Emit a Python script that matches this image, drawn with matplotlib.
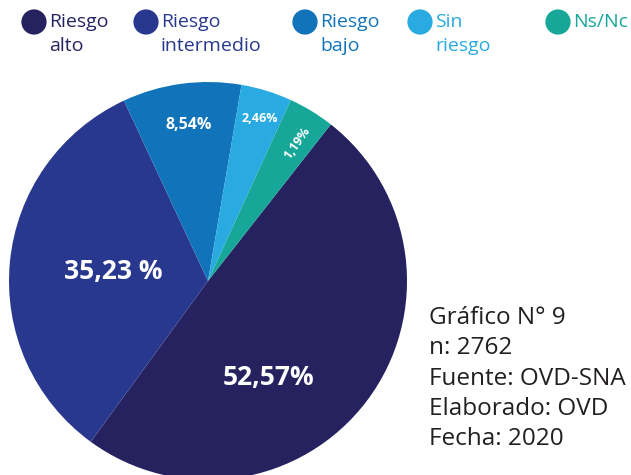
import numpy as np
import matplotlib.pyplot as plt

# categories and values (wedge shares, labels as printed)
categorias = ['Riesgo\nalto', 'Riesgo\nintermedio', 'Riesgo\nbajo', 'Sin\nriesgo', 'Ns/Nc']
porcentajes = ['52,57%', '35,23 %', '8,54%', '2,46%', '1,19%']
angulos = [178.0, 118.9, 34.7, 14.9, 13.5]
colores = ['#262260', '#28388e', '#1174bb', '#29aae1', '#16a799']
notas = ['Gráfico N° 9', 'n: 2762', 'Fuente: OVD-SNA', 'Elaborado: OVD', 'Fecha: 2020']

plt.rcParams['font.family'] = ['Open Sans', 'DejaVu Sans']

fig = plt.figure(figsize=(6.31, 4.75), dpi=100)
ax = fig.add_axes([0, 0, 1, 1])

cx, cy, r = 208, 475 - 281, 199
ax.pie(angulos, colors=colores, startangle=51.9, counterclock=False,
       center=(cx, cy), radius=r, wedgeprops=dict(linewidth=0))
ax.set_xlim(0, 631)
ax.set_ylim(0, 475)
ax.set_aspect('equal')
ax.axis('off')

# percentage labels (offsets from the centre, pixels)
off = [(60, -96), (-95, 9), (-19, 156), (52, 163), (89, 138)]
tam = [19, 19, 11.5, 9, 9]
rot = [0, 0, 0, 0, 55]
for p, (dx, dy), s, ang in zip(porcentajes, off, tam, rot):
    ax.text(cx + dx, cy + dy, p, color='white', fontsize=s, fontweight='bold',
            ha='center', va='center', rotation=ang)

# legend row
leg_x = [34, 146, 305, 420, 558]
for x, c, lab in zip(leg_x, colores, categorias):
    ax.scatter([x], [475 - 22], s=330, color=c, edgecolors='none', clip_on=False)
    for j, linea in enumerate(lab.split('\n')):
        ax.text(x + 15, 475 - 22 - 24 * j, linea, color=c, fontsize=14,
                ha='left', va='center')

# notes at right
for i, t in enumerate(notas):
    ax.text(429, 475 - 318 - i * 30.3, t, color='#231f20', fontsize=17.5,
            ha='left', va='center')

fig.savefig('out.png', dpi=100)
